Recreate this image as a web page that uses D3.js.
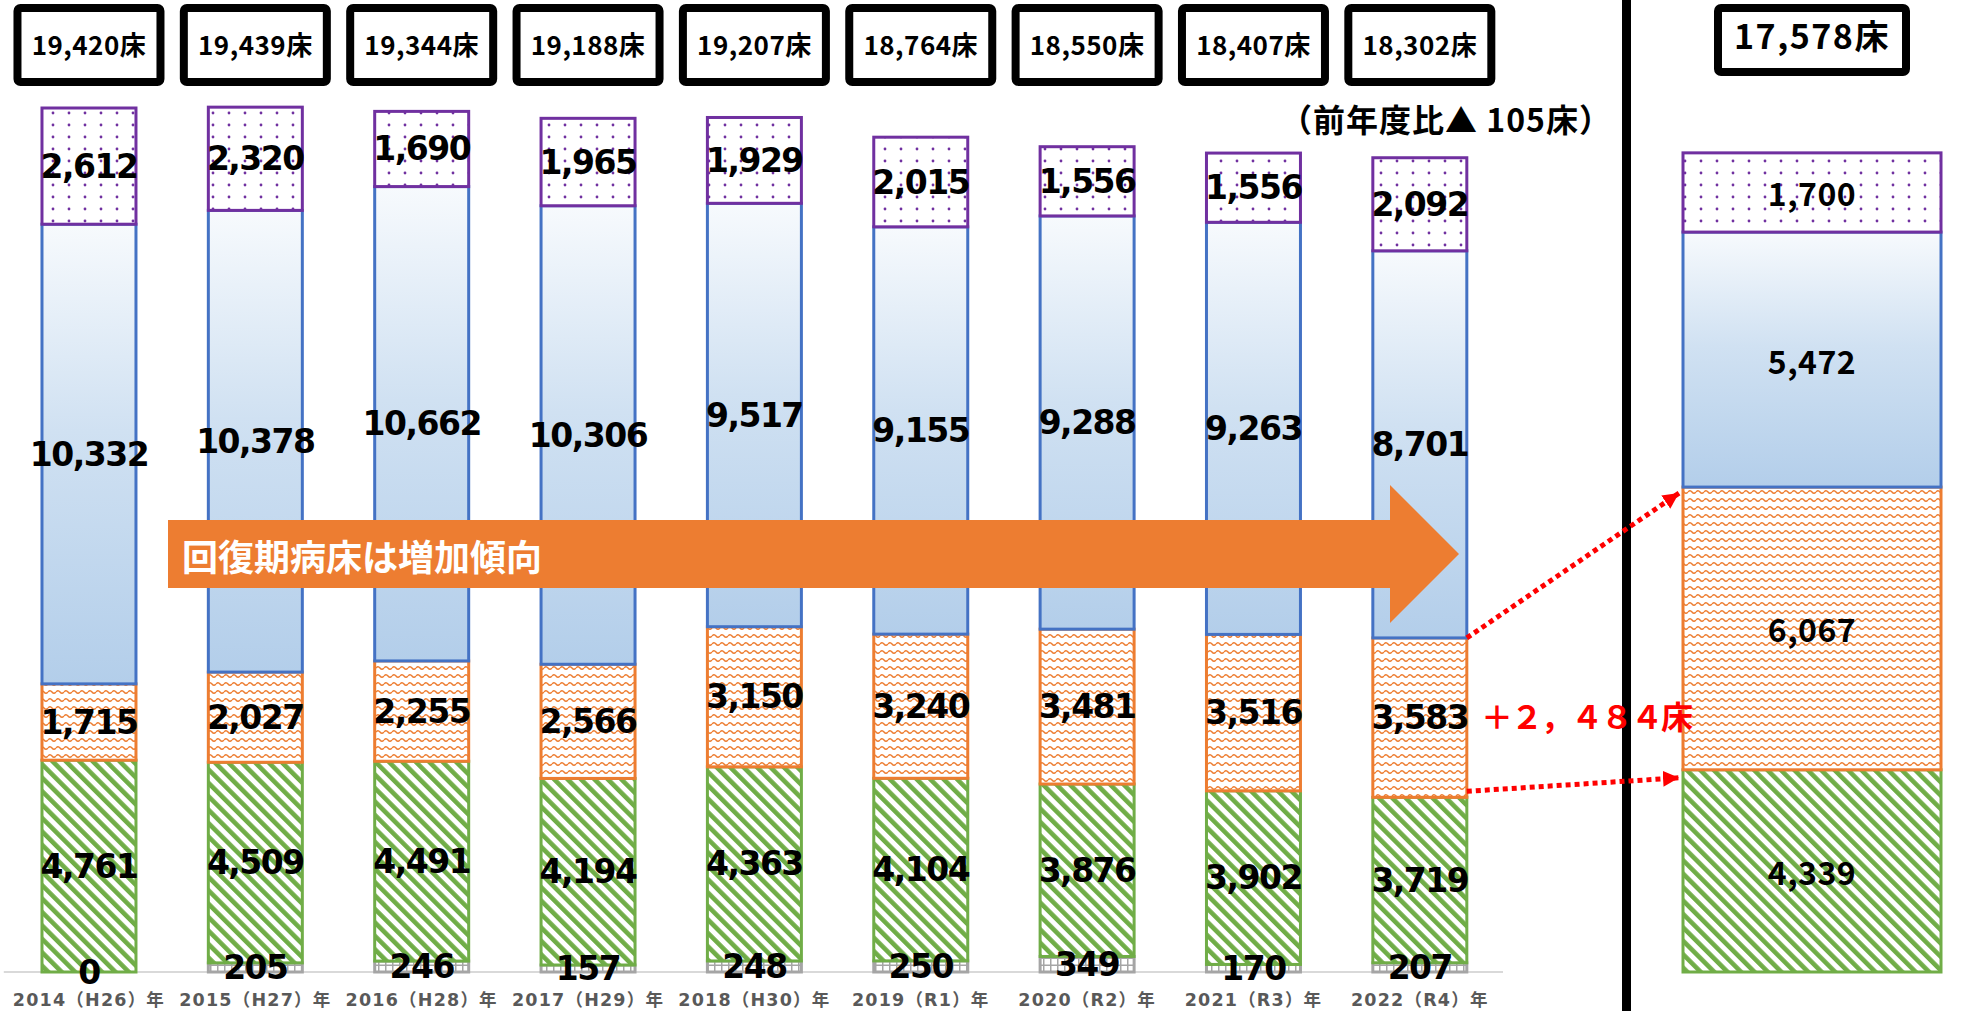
<!DOCTYPE html>
<html><head><meta charset="utf-8">
<script src="https://cdn.jsdelivr.net/npm/d3@7"></script>
<style>body{margin:0;background:#fff}svg{display:block}</style></head>
<body><svg id="c" width="1986" height="1011"></svg>
<script>
// ---------- data ----------
const years = ["2014（H26）年","2015（H27）年","2016（H28）年","2017（H29）年","2018（H30）年","2019（R1）年","2020（R2）年","2021（R3）年","2022（R4）年"];
const seriesKeys = ["kyuto","mansei","kaifuku","kyusei","kodo"];
const kyuto   = [0,205,246,157,248,250,349,170,207];
const mansei  = [4761,4509,4491,4194,4363,4104,3876,3902,3719];
const kaifuku = [1715,2027,2255,2566,3150,3240,3481,3516,3583];
const kyusei  = [10332,10378,10662,10306,9517,9155,9288,9263,8701];
const kodo    = [2612,2320,1690,1965,1929,2015,1556,1556,2092];
const totals  = [19420,19439,19344,19188,19207,18764,18550,18407,18302];
const futureKeys = ["mansei","kaifuku","kyusei","kodo"];
const futureValues = [4339,6067,5472,1700];
const futureTotal = 17578;
const totalSuffix = "床";
const arrowText = "回復期病床は増加傾向";
const diffText = "（前年度比▲ 105床）";
const increaseText = "＋２，４８４床";

// ---------- setup ----------
const svg = d3.select("#c");
const defs = svg.append("defs");
const fmt = d3.format(",");
const colors = {kyuto:"#A5A5A5", mansei:"#70AD47", kaifuku:"#ED7D31", kyusei:"#4472C4", kodo:"#7030A0"};

// patterns
const pDot = defs.append("pattern").attr("id","p-kodo").attr("patternUnits","userSpaceOnUse").attr("width",16).attr("height",12);
pDot.append("rect").attr("width",16).attr("height",12).attr("fill","#fff");
pDot.append("circle").attr("cx",5).attr("cy",5).attr("r",1.4).attr("fill","#7030A0");

const g = defs.append("linearGradient").attr("id","p-kyusei").attr("x1",0).attr("y1",0).attr("x2",0).attr("y2",1);
g.append("stop").attr("offset","0%").attr("stop-color","#F7FAFD");
g.append("stop").attr("offset","45%").attr("stop-color","#D0E1F2");
g.append("stop").attr("offset","100%").attr("stop-color","#B3CEEA");

const pWave = defs.append("pattern").attr("id","p-kaifuku").attr("patternUnits","userSpaceOnUse").attr("width",8).attr("height",8);
pWave.append("rect").attr("width",8).attr("height",8).attr("fill","#fff");
pWave.append("path").attr("d","M0,4 Q2,1.5 4,4 T8,4").attr("fill","none").attr("stroke","#ED7D31").attr("stroke-width",1.4);

const pDiag = defs.append("pattern").attr("id","p-mansei").attr("patternUnits","userSpaceOnUse").attr("width",9.5).attr("height",9.5).attr("patternTransform","rotate(-45)");
pDiag.append("rect").attr("width",9.5).attr("height",9.5).attr("fill","#fff");
pDiag.append("rect").attr("width",4.6).attr("height",9.5).attr("fill","#70AD47");

const pGrid = defs.append("pattern").attr("id","p-kyuto").attr("patternUnits","userSpaceOnUse").attr("width",7).attr("height",7);
pGrid.append("rect").attr("width",7).attr("height",7).attr("fill","#fff");
pGrid.append("rect").attr("x",0).attr("width",1.5).attr("height",7).attr("fill","#A5A5A5");
pGrid.append("rect").attr("y",5.5).attr("width",7).attr("height",1.5).attr("fill","#A5A5A5");

const mk = defs.append("marker").attr("id","redhead").attr("markerUnits","userSpaceOnUse")
  .attr("markerWidth",18).attr("markerHeight",18).attr("refX",16).attr("refY",8).attr("orient","auto");
mk.append("path").attr("d","M0,0 L16,8 L0,16 Z").attr("fill","#FF0000");

// scales
const x = d3.scaleBand().domain(years).range([5.8,1503]).paddingInner(0.435).paddingOuter(0.2175);
const y = d3.scaleLinear().domain([0,20000]).range([972, 972-20000*0.04449]);
const xR = d3.scaleBand().domain(["future"]).range([1683,1941]);
const yR = d3.scaleLinear().domain([0,20000]).range([972, 972-20000*0.0466]);

// stack
const rows = years.map((yr,i)=>({year:yr, kyuto:kyuto[i], mansei:mansei[i], kaifuku:kaifuku[i], kyusei:kyusei[i], kodo:kodo[i]}));
const stack = d3.stack().keys(seriesKeys)(rows);

// axis line
svg.append("line").attr("x1",x.range()[0]-2).attr("x2",x.range()[1]).attr("y1",y(0)).attr("y2",y(0))
  .attr("stroke","#D9D9D9").attr("stroke-width",2);

// bars
const layers = svg.append("g").selectAll("g").data(stack).join("g");
layers.selectAll("rect").data(d=>d.map(v=>({key:d.key, v}))).join("rect")
  .attr("x", d=>x(d.v.data.year))
  .attr("width", x.bandwidth())
  .attr("y", d=>y(d.v[1]))
  .attr("height", d=>Math.max(0, y(d.v[0])-y(d.v[1])))
  .attr("fill", d=>`url(#p-${d.key})`)
  .attr("stroke", d=>colors[d.key]).attr("stroke-width",3);

// future bar
const fRow = {year:"future"}; futureKeys.forEach((k,i)=>fRow[k]=futureValues[i]);
const fStack = d3.stack().keys(futureKeys)([fRow]);
svg.append("g").selectAll("rect").data(fStack).join("rect")
  .attr("x", xR("future")).attr("width", xR.bandwidth())
  .attr("y", d=>yR(d[0][1])).attr("height", d=>yR(d[0][0])-yR(d[0][1]))
  .attr("fill", d=>`url(#p-${d.key})`).attr("stroke", d=>colors[d.key]).attr("stroke-width",3);

// orange arrow (annotation)
svg.append("path")
  .attr("d","M168,520 L1390,520 L1390,485 L1459,554 L1390,623 L1390,588 L168,588 Z")
  .attr("fill","#ED7D31");
svg.append("text").attr("x",182).attr("y",555).attr("dominant-baseline","central")
  .attr("font-family","'Noto Sans CJK JP'").attr("font-weight",700).attr("font-size",36)
  .attr("fill","#fff").text(arrowText);

// value labels (left)
const lbl = svg.append("g").attr("font-family","'DejaVu Sans'").attr("font-weight",700)
  .attr("font-size",33).attr("letter-spacing",-1.5).attr("text-anchor","middle").attr("fill","#000");
stack.forEach(layer=>{
  layer.forEach(v=>{
    lbl.append("text").attr("x", x(v.data.year)+x.bandwidth()/2)
      .attr("y", (y(v[0])+y(v[1]))/2).attr("dominant-baseline","central")
      .text(fmt(v[1]-v[0]));
  });
});

// value labels (right)
const lblR = svg.append("g").attr("font-family","'Noto Sans CJK JP'").attr("font-weight",700)
  .attr("font-size",32).attr("letter-spacing",0.5).attr("text-anchor","middle").attr("fill","#000");
fStack.forEach(l=>{
  lblR.append("text").attr("x", xR("future")+xR.bandwidth()/2)
    .attr("y",(yR(l[0][0])+yR(l[0][1]))/2).attr("dominant-baseline","central")
    .text(fmt(l[0][1]-l[0][0]));
});

// x labels
svg.append("g").selectAll("text").data(years).join("text")
  .attr("x", d=>x(d)+x.bandwidth()/2).attr("y",1000).attr("dominant-baseline","central")
  .attr("text-anchor","middle").attr("font-family","'DejaVu Sans','Noto Sans CJK JP'")
  .attr("font-weight",700).attr("font-size",17.5).attr("letter-spacing",1.2).attr("fill","#595959")
  .text(d=>d);

// total boxes
const bx = svg.append("g").selectAll("g").data(years).join("g")
  .attr("transform", d=>`translate(${x(d)+x.bandwidth()/2},0)`);
bx.append("rect").attr("x",-71.5).attr("y",8).attr("width",143).attr("height",74).attr("rx",3)
  .attr("fill","#fff").attr("stroke","#000").attr("stroke-width",8);
bx.append("text").attr("y",43).attr("dominant-baseline","central").attr("text-anchor","middle")
  .attr("font-family","'Noto Sans CJK JP'").attr("font-weight",700).attr("font-size",26).attr("letter-spacing",0.5)
  .text((d,i)=>fmt(totals[i])+totalSuffix);

// future total box
const fc = xR("future")+xR.bandwidth()/2;
svg.append("rect").attr("x",fc-94).attr("y",8).attr("width",188).attr("height",64).attr("rx",3)
  .attr("fill","#fff").attr("stroke","#000").attr("stroke-width",8);
svg.append("text").attr("x",fc).attr("y",34).attr("dominant-baseline","central").attr("text-anchor","middle")
  .attr("font-family","'Noto Sans CJK JP'").attr("font-weight",700).attr("font-size",34).attr("letter-spacing",1.5)
  .text(fmt(futureTotal)+totalSuffix);

// diff text
svg.append("text").attr("x",1280).attr("y",118).attr("dominant-baseline","central")
  .attr("font-family","'Noto Sans CJK JP'").attr("font-weight",700).attr("font-size",32).attr("letter-spacing",1)
  .text(diffText);

// divider
svg.append("rect").attr("x",1622).attr("y",0).attr("width",9).attr("height",1011).attr("fill","#000");

// red dotted arrows
const last = years.length-1;
const xs = x(years[last])+x.bandwidth();
const kTop = stack[2][last][1], kBot = stack[2][last][0];
const red = svg.append("g").attr("stroke","#FF0000").attr("stroke-width",5).attr("stroke-dasharray","5,4").attr("fill","none");
red.append("line").attr("x1",xs).attr("y1",y(kTop)).attr("x2",xR("future")-4).attr("y2",yR(fStack[1][0][1])+6).attr("marker-end","url(#redhead)");
red.append("line").attr("x1",xs).attr("y1",y(kBot)-6).attr("x2",xR("future")-4).attr("y2",yR(fStack[0][0][1])+8).attr("marker-end","url(#redhead)");

svg.append("text").attr("x",1586).attr("y",715).attr("dominant-baseline","central").attr("text-anchor","middle")
  .attr("font-family","'Noto Sans CJK JP'").attr("font-weight",700).attr("font-size",32).attr("letter-spacing",-2).attr("fill","#FF0000")
  .text(increaseText);
</script></body></html>
